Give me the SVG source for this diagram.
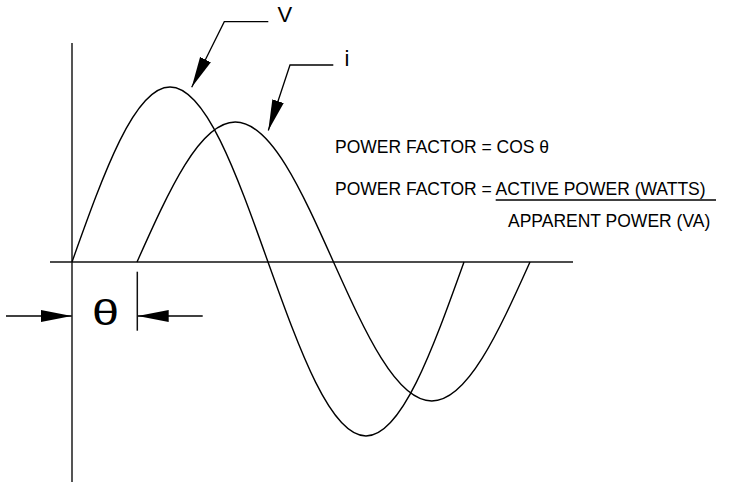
<svg xmlns="http://www.w3.org/2000/svg" width="737" height="482" viewBox="0 0 737 482">
  <defs>
    <style>
      .ax { fill: none; stroke: #111; stroke-width: 1.5; }
      .vax { fill: none; stroke: #555; stroke-width: 2; }
      .wave { fill: none; stroke: #000; stroke-width: 1.4; }
      .ld { fill: none; stroke: #000; stroke-width: 1.3; }
      .t { font-family: "Liberation Sans", Arial, sans-serif; fill: #000; }
    </style>
    <marker id="ah" markerUnits="userSpaceOnUse" markerWidth="32" markerHeight="14" refX="31" refY="7" orient="auto">
      <path d="M0,1 L31,7 L0,13 Z" fill="#000"/>
    </marker>
  </defs>
  <rect width="737" height="482" fill="#fff"/>

  <g id="axes">
    <line class="vax" x1="72" y1="43" x2="72" y2="482"/>
    <line class="ax" x1="50" y1="262" x2="573" y2="262"/>
  </g>

  <g id="wave-v">
    <path class="wave" d="M72,262 C103.96,172.35 134.53,87 170,87 C205.47,87 236.04,172.35 268,262 C299.96,351.14 330.53,436 366,436 C401.47,436 432.04,351.14 464,262"/>
  </g>
  <g id="wave-i">
    <path class="wave" d="M137,262 C169.04,190.28 199.69,122 235.25,122 C270.81,122 301.46,190.28 333.5,262 C365.54,333.21 396.19,401 431.75,401 C467.31,401 497.96,333.21 530,262"/>
  </g>

  <g id="connectors">
    <polyline class="ld" points="268.3,21.7 224.3,21.7 191.7,87.3" marker-end="url(#ah)"/>
    <polyline class="ld" points="333.3,65 290,65 268.3,130.5" marker-end="url(#ah)"/>
    <line class="ld" x1="6" y1="316" x2="71.7" y2="316" marker-end="url(#ah)"/>
    <line class="ld" x1="202.7" y1="316" x2="137.7" y2="316" marker-end="url(#ah)"/>
    <line class="ax" x1="137.3" y1="271.7" x2="137.3" y2="330.7"/>
  </g>

  <g id="label-v">
    <text class="t" x="277.5" y="22" font-size="22">V</text>
  </g>
  <g id="label-i">
    <text class="t" x="344.5" y="65.7" font-size="22">i</text>
  </g>
  <g id="label-theta">
    <text class="t" x="0" y="0" font-size="36" text-anchor="middle" transform="translate(105.5,325) scale(1.35,1)">θ</text>
  </g>

  <g id="formula">
    <text class="t" x="335" y="153.3" font-size="17.5">POWER FACTOR = COS θ</text>
    <text class="t" x="335" y="195" font-size="17.5">POWER FACTOR = ACTIVE POWER (WATTS)</text>
    <line class="ld" x1="495.7" y1="200" x2="716" y2="200"/>
    <text class="t" x="508" y="226.7" font-size="17.5">APPARENT POWER (VA)</text>
  </g>
</svg>
